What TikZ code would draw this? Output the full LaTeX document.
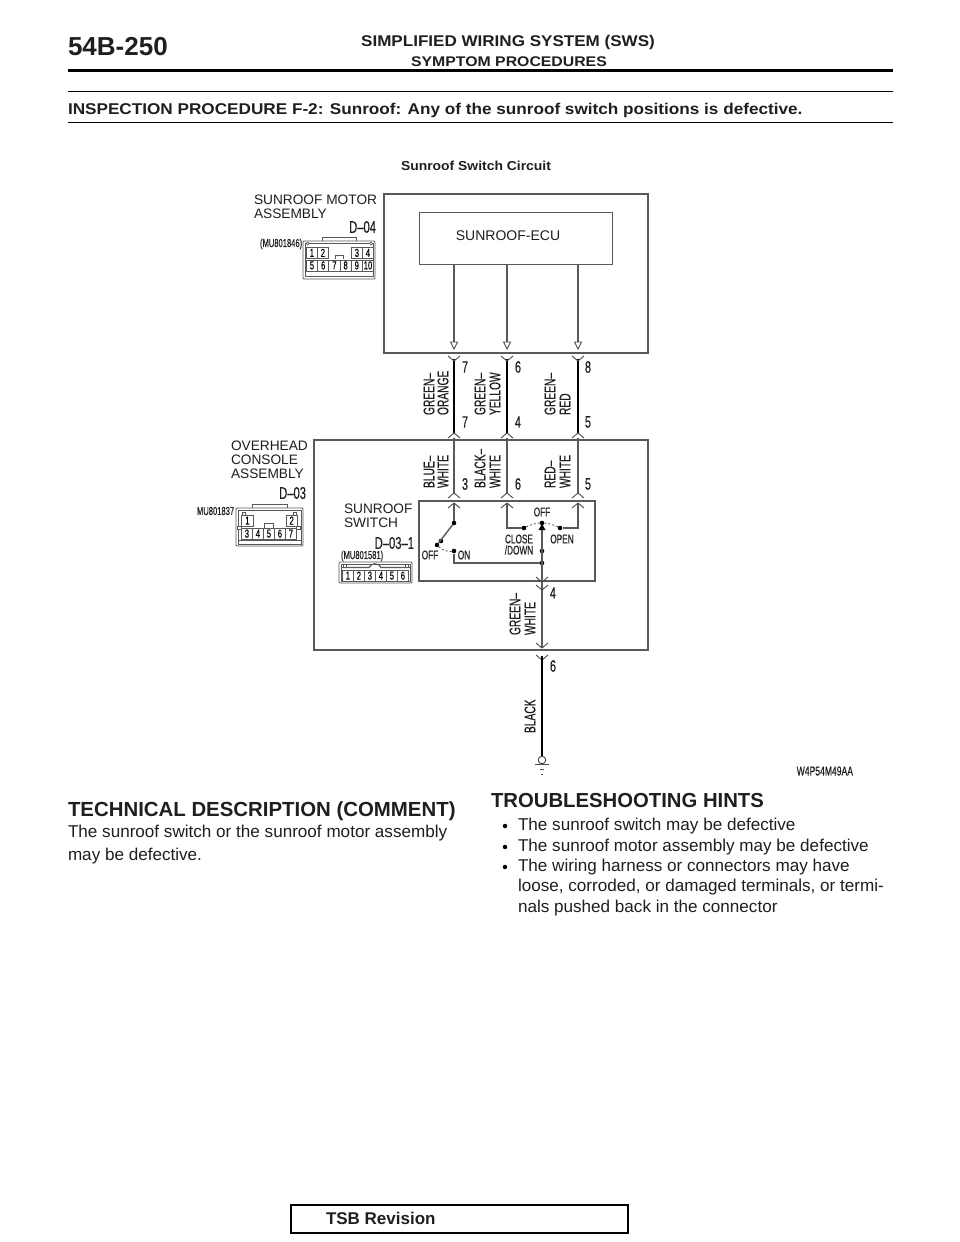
\documentclass[tikz,border=0pt]{standalone}
\usepackage{fontspec}
\usepackage{graphicx}
\setmainfont{Liberation Sans}
\newfontfamily\narf[FakeBold=0.5,Ligatures=TeX]{Liberation Sans}
\newcommand\fs[1]{\fontsize{#1}{#1}\selectfont}
\newcommand\nr[1]{\scalebox{.66}[1]{\narf #1}}
\newcommand\wdx[2]{\scalebox{#1}[1]{#2}}
\tikzset{
  txt/.style={inner sep=0pt,outer sep=0pt,text=black!88},
  lbl/.style={txt,anchor=west,font=\fs{13.7}},
  wlab/.style={txt,rotate=90,anchor=west,font=\fs{15.5}},
  num/.style={txt,font=\fs{16.5}},
  hd/.style={txt,font=\fs{15}\bfseries},
  body/.style={txt,anchor=west,font=\fs{17.1}},
  boxl/.style={draw=black!65,line width=1.2pt},
  wthin/.style={draw=black!65,line width=1.2pt},
  wthick/.style={draw=black,line width=2.4pt},
  chev/.style={draw=black!70,line width=.9pt},
  con/.style={draw=black!65,line width=.9pt},
  cell/.style={draw=black!65,line width=.8pt,inner sep=0pt,anchor=north west},
  sdot/.style={circle,fill=black,inner sep=0pt,minimum size=4.6pt},
  dsh/.style={draw=black!70,line width=.8pt,dash pattern=on 2pt off 2pt},
  hollow/.style={draw=black!70,fill=white,line width=.9pt},
  peg/.style={draw=black!65,line width=.7pt,fill=white},
}
\newcommand\chup[2]{\draw[chev] (#1-6,#2+5) -- (#1,#2) -- (#1+6,#2+5);}
\newcommand\chdn[2]{\draw[chev] (#1-6,#2-5) -- (#1,#2) -- (#1+6,#2-5);}
\newcommand\tri[2]{\draw[hollow] (#1-3.5,#2-7) -- (#1+3.5,#2-7) -- (#1,#2) -- cycle;}
\begin{document}
\begin{tikzpicture}[x=1pt,y=-1pt]
\useasboundingbox (0,0) rectangle (960,1242);
\fill[white] (0,0) rectangle (960,1242);
% header
\node[hd,anchor=west,font=\fs{26}\bfseries] (page) at (68,47) {54B-250};
\node[hd,font=\fs{15.5}\bfseries] (title) at (508,42) {\wdx{1.1}{SIMPLIFIED WIRING SYSTEM (SWS)}};
\node[hd,font=\fs{14}\bfseries] (sub) at (509,62) {\wdx{1.13}{SYMPTOM PROCEDURES}};
\draw[black,line width=3pt] (68,70.5) coordinate (hl) -- (893,70.5) coordinate (hr);
\draw[black,line width=1pt] (68,91) coordinate (il) -- (893,91) coordinate (ir);
\draw[black,line width=1pt] (68,122) coordinate (jl) -- (893,122) coordinate (jr);
\node[hd,anchor=west,font=\fs{15.6}\bfseries] (insp) at (68,110) {\wdx{1.1}{INSPECTION PROCEDURE F-2: Sunroof: Any of the sunroof switch positions is defective.}};
\node[hd,font=\fs{13}\bfseries] (cap) at (476,165.5) {\wdx{1.07}{Sunroof Switch Circuit}};
% boxes
\draw[boxl] (384,194) rectangle (648,353);
\node[boxl,inner sep=0pt,minimum width=193pt,minimum height=52pt,anchor=north west] (ecu) at (419,212) {};
\node[txt,font=\fs{14}] (ecut) at (508,236) {SUNROOF-ECU};
\draw[boxl] (314,440) rectangle (648,650);
\draw[boxl] (419,501) rectangle (595,581);
% ECU wires
\foreach \n/\x in {a/454,b/507,c/578}{
  \coordinate (\n0) at (\x,264);
  \coordinate (\n1) at (\x,342);
  \draw[wthin] (\n0) -- (\n1);
  \tri{\x}{349}
  \coordinate (\n2) at (\x,359);
  \coordinate (\n3) at (\x,433);
  \draw[wthick] (\n2) -- (\n3);
  \chdn{\x}{361}
  \chup{\x}{433}
  \coordinate (\n4) at (\x,438);
  \coordinate (\n5) at (\x,494);
  \draw[wthin] (\n4) -- (\n5);
  \chup{\x}{493}
  \coordinate (\n6) at (\x,503);
  \chup{\x}{503}
}
% switch internals
\node[sdot] (s1) at (454,523) {};
\node[sdot] (s2) at (441,541) {};
\node[sdot] (s3) at (437,545) {};
\node[sdot] (son) at (454,551) {};
\node[sdot] (j1) at (542,563) {};
\node[sdot] (j2) at (542,551) {};
\node[sdot] (off) at (542,523) {};
\node[sdot] (cl) at (524,528) {};
\node[sdot] (op) at (560,528) {};
\draw[wthin] (a6) -- (s1);
\draw[wthin,line width=1.4pt] (s1) -- (s3);
\draw[dsh] (s3) .. controls (442,550) and (448,552) .. (son);
\draw[wthin] (son) -- (454,563) coordinate (k) -- (j1);
\draw[wthin] (b6) -- (507,528) coordinate (k2) -- (cl);
\draw[wthin] (c6) -- (578,528) coordinate (k3) -- (op);
\draw[dsh] (cl) .. controls (530,525) and (536,523) .. (off);
\draw[dsh] (off) .. controls (548,523) and (554,525) .. (op);
\coordinate (g0) at (542,647);
\draw[wthin] (off) -- (g0);
\fill[black] (538.5,530) -- (545.5,530) -- (542,524) -- cycle;
\chdn{542}{582}
\chdn{542}{590}
\chdn{542}{648}
\chdn{542}{660}
\node[circle,draw=black!75,line width=.9pt,fill=white,inner sep=0pt,minimum size=7.5pt] (gnd) at (542,760) {};
\coordinate (g1) at (542,656);
\draw[wthick] (g1) -- (gnd);
\draw[chev] (535,764) coordinate (g2) -- (549,764) coordinate (g3);
\draw[chev] (540,769) coordinate (g4) -- (544,769) coordinate (g5);
\draw[chev] (541,774) coordinate (g6) -- (543,774) coordinate (g7);
% wire labels
\foreach \id/\x/\y/\t in {
 la/429/415/GREEN--,lb/443/415/ORANGE,
 lc/480/415/GREEN--,ld/495/415/YELLOW,
 le/550/415/GREEN--,lf/565/415/RED,
 lg/429/488/BLUE--,lh/443/488/WHITE,
 li/480/488/BLACK--,lj/495/488/WHITE,
 lk/550/488/RED--,ll/565/488/WHITE,
 lm/515/635/GREEN--,ln/530/635/WHITE,
 lo/530/733/BLACK}{
  \node[wlab] (\id) at (\x,\y) {\nr{\t}};
}
% numbers
\foreach \id/\x/\y/\t in {
 na/465/367/7,nb/465/422/7,nc/518/367/6,nd/518/422/4,ne/588/367/8,nf/588/422/5,
 ng/465/484/3,nh/518/484/6,ni/588/484/5,nj/553/593/4,nk/553/666/6}{
  \node[num] (\id) at (\x,\y) {\nr{\t}};
}
% switch texts
\foreach \id/\x/\y/\t in {
 ta/542/512/OFF,tb/519/539/CLOSE,tc/519/550/{/DOWN},td/562/539/OPEN,te/430/555/OFF,tf/464/555/ON}{
  \node[txt,font=\fs{12.5}] (\id) at (\x,\y) {\nr{\t}};
}
% left labels
\node[lbl] (m1) at (254,200) {SUNROOF MOTOR};
\node[lbl] (m2) at (254,214) {ASSEMBLY};
\node[txt,anchor=east,font=\fs{17}] (m3) at (376,227) {\nr{D--04}};
\node[txt,anchor=west,font=\fs{11.5}] (m4) at (260,244) {\nr{(MU801846)}};
\node[lbl] (o1) at (231,446) {OVERHEAD};
\node[lbl] (o2) at (231,460) {CONSOLE};
\node[lbl] (o3) at (231,474) {ASSEMBLY};
\node[txt,anchor=east,font=\fs{17}] (o4) at (306,493) {\nr{D--03}};
\node[txt,anchor=west,font=\fs{11.5}] (o5) at (197,511) {\nr{MU801837}};
\node[lbl] (s4) at (344,509) {SUNROOF};
\node[lbl] (s5) at (344,523) {SWITCH};
\node[txt,anchor=east,font=\fs{17}] (s6) at (414,543) {\nr{D--03--1}};
\node[txt,anchor=west,font=\fs{11.5}] (s7) at (341,556) {\nr{(MU801581)}};
% connector D-04
\draw[con,rounded corners=1pt] (303,241) rectangle (375,279);
\draw[con] (305,243) rectangle (373,276);
\draw[con] (322,241) -- (322,237) -- (356,237) -- (356,241);
\draw[con] (335,259) -- (335,255) -- (343,255) -- (343,259);
\draw[con] (305,271.5) -- (373,271.5);
\draw[peg] (307.5,243.5) circle (1.5pt);
\draw[peg] (371,243.5) circle (1.5pt);
\foreach \x/\t in {306/1,317/2,351/3,362/4}{
  \node[cell,minimum width=11pt,minimum height=11pt,font=\fs{11.5}] (p\t) at (\x,247) {\nr{\t}};
}
\foreach \x/\t in {306/5,317.2/6,328.4/7,339.6/8,350.8/9,362/10}{
  \node[cell,minimum width=11.2pt,minimum height=11pt,font=\fs{11.5}] (q\t) at (\x,259.5) {\nr{\t}};
}
% connector D-03
\draw[con,rounded corners=1pt] (236,508) rectangle (303,546);
\draw[con] (238,510) rectangle (301,544);
\draw[con] (252,508) -- (252,504) -- (287,504) -- (287,508);
\draw[con] (264,528) -- (264,523) -- (273,523) -- (273,528);
\draw[con,line width=1.4pt] (238,540.5) -- (301,540.5);
\draw[peg] (242.5,512) rectangle (245.5,515);
\draw[peg] (293,512) rectangle (296,515);
\draw[peg] (237,526) rectangle (241,529);
\draw[peg] (296,526) rectangle (300,529);
\node[cell,minimum width=12pt,minimum height=10.5pt,font=\fs{11.5}] (r1) at (241,515) {\nr{1}};
\node[cell,minimum width=10.5pt,minimum height=10.5pt,font=\fs{11.5}] (r2) at (286,515) {\nr{2}};
\foreach \x/\t in {241/3,252/4,263/5,274/6,285/7}{
  \node[cell,minimum width=11pt,minimum height=10.5pt,font=\fs{11.5}] (r\t) at (\x,528) {\nr{\t}};
}
% connector D-03-1
\draw[con,rounded corners=1pt] (339,562) rectangle (412,583);
\draw[con] (341,564) rectangle (410,581);
\draw[con,line width=1.2pt] (341,567.5) -- (369,567.5) .. controls (371,562.5) and (379,562.5) .. (381,567.5) -- (410,567.5);
\draw[peg] (343,564.5) rectangle (346,567.5);
\draw[peg] (405,564.5) rectangle (408,567.5);
\foreach \x/\t in {342/1,353/2,364/3,375/4,386/5,397/6}{
  \node[cell,minimum width=11pt,minimum height=10.5pt,font=\fs{11.5}] (u\t) at (\x,570) {\nr{\t}};
}
% drawing code
\node[txt,anchor=east,font=\fs{13}] (code) at (853,771) {\nr{W4P54M49AA}};
% text below
\node[hd,anchor=west,font=\fs{20.4}\bfseries] (h1) at (68,811) {TECHNICAL DESCRIPTION (COMMENT)};
\node[body] (b1) at (68,833) {The sunroof switch or the sunroof motor assembly};
\node[body] (b2) at (68,856) {may be defective.};
\node[hd,anchor=west,font=\fs{20.3}\bfseries] (h2) at (491,801) {TROUBLESHOOTING HINTS};
\foreach \id/\y in {d1/826,d2/847,d3/867}{
  \node[circle,fill=black,inner sep=0pt,minimum size=4.5pt] (\id) at (505,\y) {};
}
\node[body] (c1) at (518,826) {The sunroof switch may be defective};
\node[body] (c2) at (518,847) {The sunroof motor assembly may be defective};
\node[body] (c3) at (518,867) {The wiring harness or connectors may have};
\node[body] (c4) at (518,887) {loose, corroded, or damaged terminals, or termi-};
\node[body] (c5) at (518,908) {nals pushed back in the connector};
% footer
\node[draw=black,line width=1.6pt,inner sep=0pt,minimum width=337pt,minimum height=28pt,anchor=north west] (tsb) at (290,1204) {};
\node[hd,anchor=west,font=\fs{17}\bfseries] (tsbt) at (326,1218) {TSB Revision};
\end{tikzpicture}
\end{document}
